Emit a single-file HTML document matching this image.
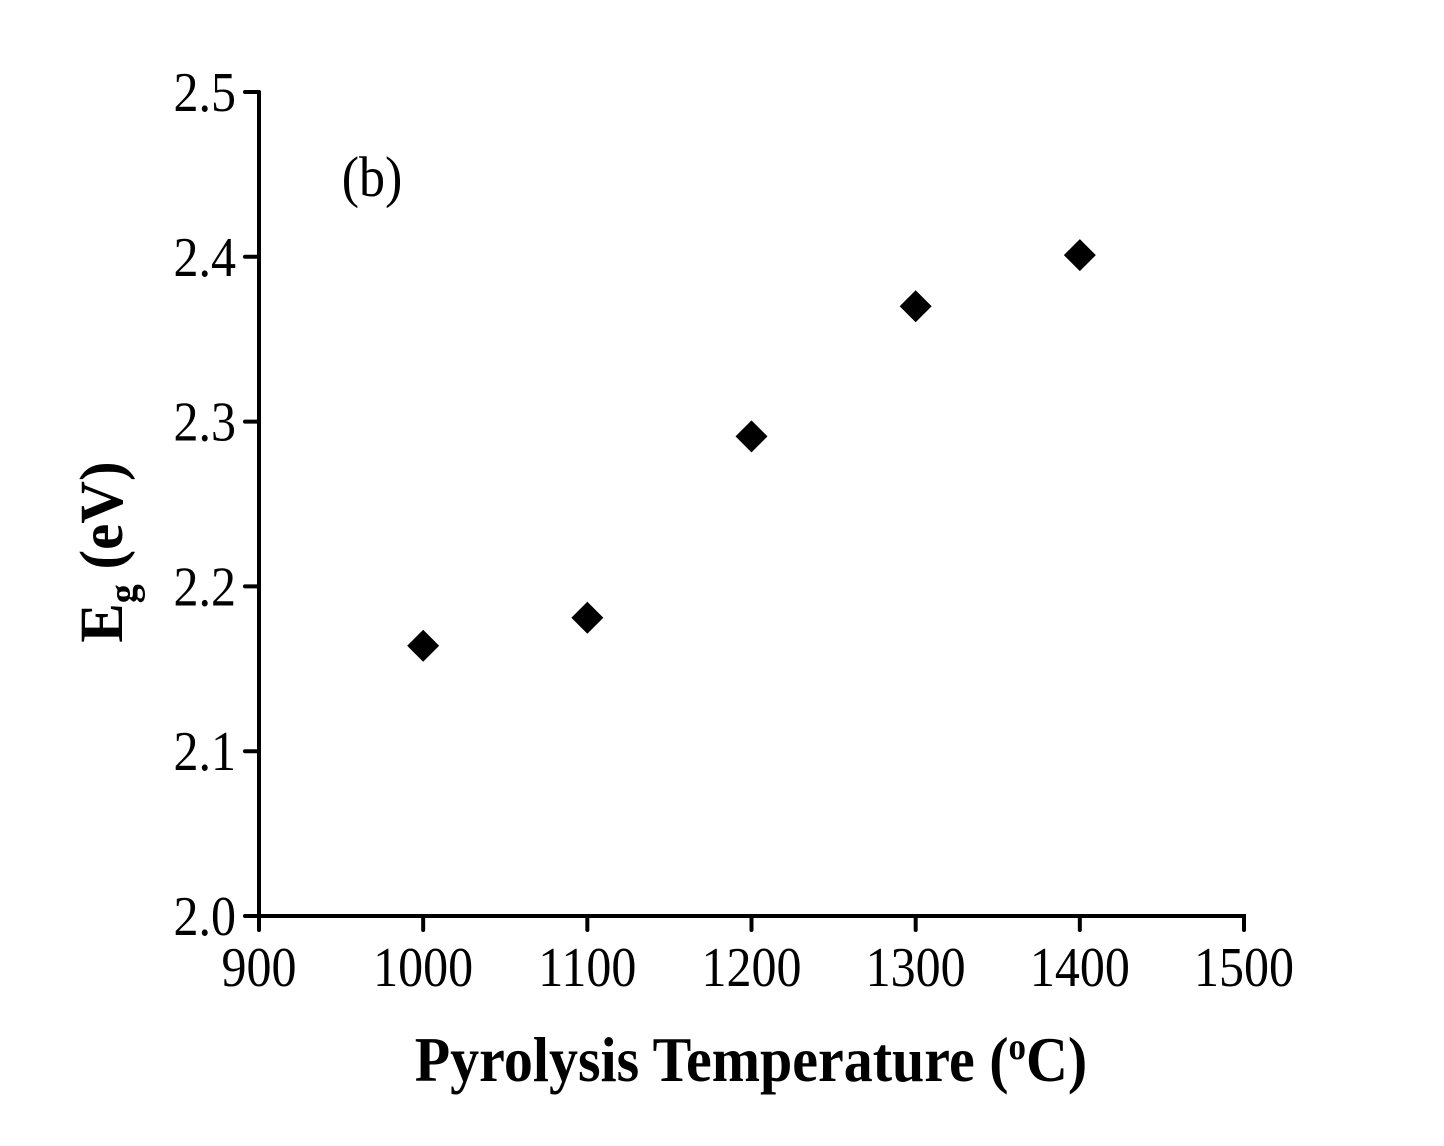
<!DOCTYPE html>
<html><head><meta charset="utf-8"><style>
html,body{margin:0;padding:0;background:#fff;}
svg{display:block;font-family:"Liberation Serif",serif;}
</style></head><body>
<svg id="chart" width="1444" height="1146" viewBox="0 0 1444 1146">
<g id="axes"></g><g id="marks"></g>
<text transform="translate(372,196) scale(1,1.1)" font-size="52" text-anchor="middle">(b)</text>
<text transform="translate(751,1081) scale(1,1.1)" font-size="58" font-weight="bold" text-anchor="middle">Pyrolysis Temperature (<tspan font-size="35" dy="-20">o</tspan><tspan dy="20">C)</tspan></text>
<text transform="translate(122,552) rotate(-90) scale(1,1.05)" font-size="59" font-weight="bold" text-anchor="middle">E<tspan font-size="38" dy="14">g</tspan><tspan dy="-14"> (eV)</tspan></text>
</svg>
<script>
const xTicks=[900,1000,1100,1200,1300,1400,1500];
const yTicks=[2.0,2.1,2.2,2.3,2.4,2.5];
const yTickLabels=["2.0","2.1","2.2","2.3","2.4","2.5"];
const temps=[1000,1100,1200,1300,1400];
const eg=[2.164,2.181,2.291,2.370,2.401];
const X=v=>259+(v-900)*(1244-259)/600;
const Y=v=>916-(v-2.0)*(916-92)/0.5;
const NS="http://www.w3.org/2000/svg";
const axes=document.getElementById('axes'),marks=document.getElementById('marks');
function mk(tag,attrs,parent){const e=document.createElementNS(NS,tag);for(const k in attrs)e.setAttribute(k,attrs[k]);parent.appendChild(e);return e;}
let l=mk('line',{x1:X(900),y1:Y(2.0),x2:X(900),y2:Y(2.5),stroke:'#000','stroke-width':4},axes);


l=mk('line',{x1:X(900)-2,y1:Y(2.0),x2:X(1500)+2,y2:Y(2.0),stroke:'#000','stroke-width':4},axes);


xTicks.forEach(t=>{
 const tk=mk('line',{x1:X(t),y1:Y(2.0),x2:X(t),y2:Y(2.0)+14,stroke:'#000','stroke-width':4,'stroke-linecap':'round'},axes);
 
 
 const tx=mk('text',{transform:`translate(${X(t)},986) scale(1,1.12)`,'font-size':50,'text-anchor':'middle'},axes);
 tx.textContent=t;
 
 
});
yTicks.forEach((t,i)=>{
 const tk=mk('line',{x1:X(900)-14,y1:Y(t),x2:X(900),y2:Y(t),stroke:'#000','stroke-width':4,'stroke-linecap':'round'},axes);
 
 
 const tx=mk('text',{transform:`translate(236,${Y(t)+19}) scale(1,1.12)`,'font-size':50,'text-anchor':'end'},axes);
 tx.textContent=yTickLabels[i];
 
 
});
temps.forEach((t,i)=>{
 const cx=X(t),cy=Y(eg[i]),r=16;
 const p=mk('polygon',{points:`${cx},${cy-r} ${cx+r},${cy} ${cx},${cy+r} ${cx-r},${cy}`,fill:'#000'},marks);
 
 
});
</script>
</body></html>
